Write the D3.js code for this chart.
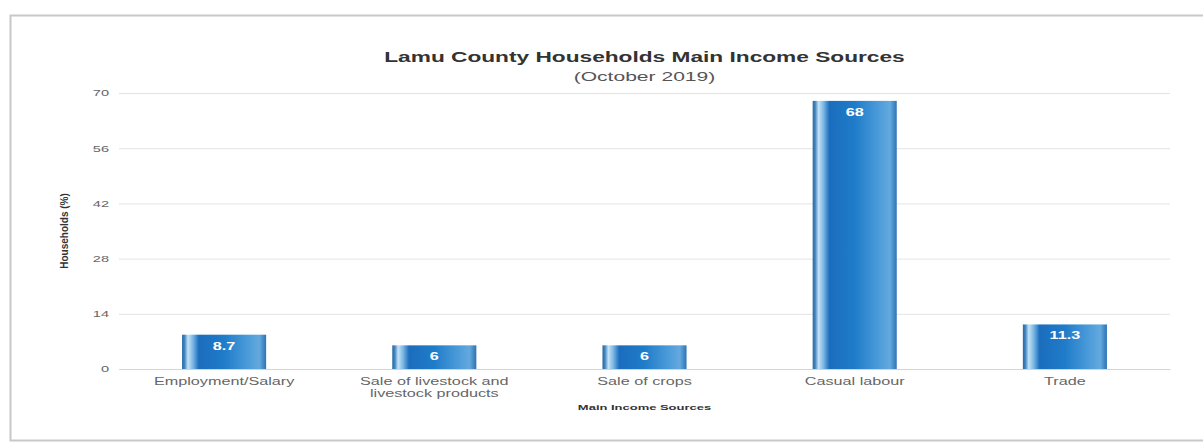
<!DOCTYPE html>
<html>
<head>
<meta charset="utf-8">
<script src="https://cdn.jsdelivr.net/npm/d3@7"></script>
<style>
body { margin: 0; background: #fff; }
text { font-family: "Liberation Sans", Arial, sans-serif; }
</style>
</head>
<body>
<svg class="bar-chart"></svg>
<script>
var categories = ["Employment/Salary", "Sale of livestock and livestock products", "Sale of crops", "Casual labour", "Trade"];
var values = [8.7, 6, 6, 68, 11.3];
var valueLabels = ["8.7", "6", "6", "68", "11.3"];
var yTicks = [0, 14, 28, 42, 56, 70];

var svgWidth = 1203, svgHeight = 445;
var margin = { top: 93, right: 33, bottom: 76, left: 119 };
var width = svgWidth - margin.left - margin.right;
var height = svgHeight - margin.top - margin.bottom;
// the original picture is squeezed/stretched sideways, so text gets widened
var stretch = 1.62;

var svg = d3.select(".bar-chart")
	.attr("width", svgWidth)
	.attr("height", svgHeight);

// frame
svg.append("rect")
	.attr("x", 10.5).attr("y", 15.5)
	.attr("width", 1200).attr("height", 425)
	.attr("fill", "#fff")
	.attr("stroke", "#c8c8c8")
	.attr("stroke-width", 2);

var defs = svg.append("defs");
var grad = defs.append("linearGradient")
	.attr("id", "barGrad")
	.attr("x1", "0%").attr("x2", "100%")
	.attr("y1", "0%").attr("y2", "0%");
[["0%", "#2a6aa0"], ["3%", "#3f86c2"], ["7%", "#c4e2f6"], ["13%", "#79b6e4"], ["20%", "#1b6dbd"],
 ["50%", "#1f7cc9"], ["78%", "#4b9bd9"], ["92%", "#64a9de"], ["100%", "#2d73b3"]].forEach(function(s) {
	grad.append("stop").attr("offset", s[0]).attr("stop-color", s[1]);
});

var g = svg.append("g")
	.attr("transform", "translate(" + margin.left + "," + margin.top + ")");

var x = d3.scaleBand()
	.domain(categories)
	.range([0, width])
	.paddingInner(0.6)
	.paddingOuter(0.3);

var y = d3.scaleLinear()
	.domain([0, 70])
	.range([height, 0]);

// grid
g.append("g")
	.call(d3.axisLeft(y).tickValues(yTicks).tickSize(-width).tickPadding(10))
	.call(function(a) {
		a.select(".domain").remove();
		a.selectAll(".tick line").attr("stroke", "#e3e3e3");
		a.selectAll(".tick text").attr("class", "wide").attr("fill", "#666").style("font-size", "9px");
	});

// x axis
g.append("g")
	.attr("transform", "translate(0," + height + ")")
	.call(d3.axisBottom(x).tickSize(0).tickPadding(9))
	.call(function(a) {
		a.select(".domain").attr("stroke", "#ccd6eb");
		a.selectAll(".tick text").attr("fill", "#666").style("font-size", "10px")
			.each(function(d) {
				var t = d3.select(this);
				if (d.length > 25) {
					t.text(null);
					t.append("tspan").attr("class", "wide").attr("x", 0).attr("dy", "0.71em").text("Sale of livestock and");
					t.append("tspan").attr("class", "wide").attr("x", 0).attr("dy", "1.2em").text("livestock products");
				} else {
					t.attr("class", "wide");
				}
			});
	});

g.selectAll(".bar")
	.data(values)
	.enter().append("rect")
	.attr("class", "bar")
	.attr("x", function(d, i) { return x(categories[i]) })
	.attr("y", function(d) { return y(d) })
	.attr("width", x.bandwidth())
	.attr("height", function(d) { return height - y(d) })
	.attr("fill", "url(#barGrad)");

g.selectAll(".val")
	.data(values)
	.enter().append("text")
	.attr("class", "val wide")
	.attr("x", function(d, i) { return x(categories[i]) + x.bandwidth() / 2 })
	.attr("y", function(d) { return y(d) + 15 })
	.attr("text-anchor", "middle")
	.attr("fill", "#fff")
	.style("font-size", "10px")
	.style("font-weight", "bold")
	.text(function(d, i) { return valueLabels[i] });

// titles
svg.append("text")
	.attr("class", "wide")
	.attr("x", margin.left + width / 2)
	.attr("y", 62)
	.attr("text-anchor", "middle")
	.attr("fill", "#333")
	.style("font-size", "14px")
	.style("font-weight", "bold")
	.text("Lamu County Households Main Income Sources");

svg.append("text")
	.attr("class", "wide")
	.attr("x", margin.left + width / 2)
	.attr("y", 81)
	.attr("text-anchor", "middle")
	.attr("fill", "#555")
	.style("font-size", "13px")
	.text("(October 2019)");

svg.append("text")
	.attr("class", "wide")
	.attr("x", margin.left + width / 2)
	.attr("y", 410)
	.attr("text-anchor", "middle")
	.attr("fill", "#333")
	.style("font-size", "8px")
	.style("font-weight", "bold")
	.text("Main Income Sources");

svg.append("text")
	.attr("transform", "translate(68," + (margin.top + height / 2) + ") rotate(-90)")
	.attr("text-anchor", "middle")
	.attr("fill", "#333")
	.style("font-size", "10px")
	.style("font-weight", "bold")
	.text("Households (%)");

svg.selectAll(".wide").each(function() {
	var len = this.getComputedTextLength();
	d3.select(this)
		.attr("textLength", len * stretch)
		.attr("lengthAdjust", "spacingAndGlyphs");
});
</script>
</body>
</html>
